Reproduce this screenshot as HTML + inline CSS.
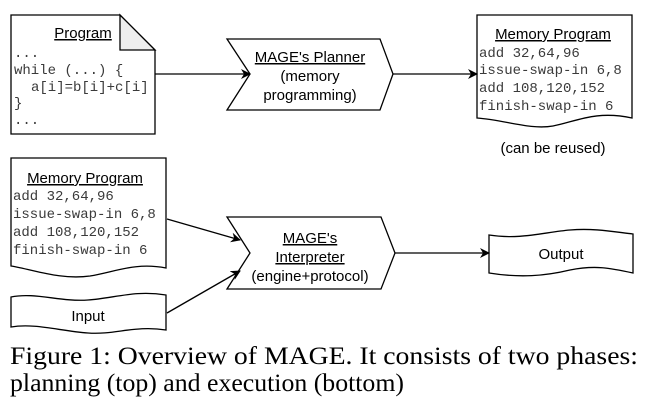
<!DOCTYPE html>
<html><head><meta charset="utf-8"><style>
html,body{margin:0;padding:0;background:#fff;}
svg{display:block;}
.s{font-family:"Liberation Sans",sans-serif;font-size:15px;fill:#000;}
.m{font-family:"Liberation Mono",monospace;font-size:14px;fill:#3a3a3a;}
.c{font-family:"Liberation Serif",serif;font-size:25px;fill:#000;}
</style></head><body>
<svg width="649" height="406" viewBox="0 0 649 406" xmlns="http://www.w3.org/2000/svg">
<defs><marker id="a" markerWidth="10" markerHeight="10" refX="9" refY="5" orient="auto" markerUnits="userSpaceOnUse"><path d="M0,0 L10,5 L0,10 L3,5 Z" fill="#000"/></marker></defs>
<g fill="#fff" stroke="#000" stroke-width="1.3">
<path d="M11,15 H120 L155,50 V134 H11 Z"/>
<path d="M120,15 V50 H155 Z" fill="#eee"/>
<path d="M227,39 H380 L393,74 L380,110 H227 L250,74 Z"/>
<path d="M477,15 H632 V118 C595,110 575,122 553,126 C530,130 505,120 477,118 Z"/>
<path d="M11,158 H166 V268 C135,262 115,272 90,276 C60,280 35,270 11,266 Z"/>
<path d="M11,297 C35,292 60,302 88,300 C115,298 135,290 166,295 V330 C135,325 115,335 88,333 C60,331 35,323 11,327 Z"/>
<path d="M227,217 H381 L395,253 L381,289 H227 L250,253 Z"/>
<path d="M489,235 C520,240 545,232 570,230 C595,228 615,232 633,234 V273 C610,268 595,265 570,270 C545,276 520,278 489,273 Z"/>
</g>
<g stroke="#000" stroke-width="1.3" fill="none" marker-end="url(#a)">
<line x1="155" y1="74" x2="250" y2="74"/>
<line x1="393" y1="74" x2="477" y2="74"/>
<line x1="167" y1="219" x2="240" y2="240"/>
<line x1="167" y1="313" x2="240" y2="271"/>
<line x1="395" y1="253" x2="489" y2="253"/>
</g>
<g class="s" text-anchor="middle" text-decoration="underline">
<text x="83" y="38">Program</text>
<text x="310" y="62">MAGE's Planner</text>
<text x="553" y="39">Memory Program</text>
<text x="85" y="183">Memory Program</text>
<text x="310" y="243">MAGE's</text>
<text x="310" y="262">Interpreter</text>
</g>
<g class="s" text-anchor="middle">
<text x="310" y="81">(memory</text>
<text x="310" y="100">programming)</text>
<text x="553" y="153">(can be reused)</text>
<text x="310" y="281">(engine+protocol)</text>
<text x="88" y="321">Input</text>
<text x="561" y="259">Output</text>
</g>
<g class="m">
<text x="14" y="57">...</text>
<text x="14" y="74">while (...) {</text>
<text x="31" y="91">a[i]=b[i]+c[i]</text>
<text x="14" y="107">}</text>
<text x="14" y="124">...</text>
<text x="479" y="57">add 32,64,96</text>
<text x="479" y="74">issue-swap-in 6,8</text>
<text x="479" y="92">add 108,120,152</text>
<text x="479" y="110">finish-swap-in 6</text>
<text x="13" y="200">add 32,64,96</text>
<text x="13" y="218">issue-swap-in 6,8</text>
<text x="13" y="236">add 108,120,152</text>
<text x="13" y="254">finish-swap-in 6</text>
</g>
<text class="c" x="10" y="364" textLength="628" lengthAdjust="spacingAndGlyphs">Figure 1: Overview of MAGE. It consists of two phases:</text>
<text class="c" x="10" y="391" textLength="394" lengthAdjust="spacingAndGlyphs">planning (top) and execution (bottom)</text>
</svg>
</body></html>
